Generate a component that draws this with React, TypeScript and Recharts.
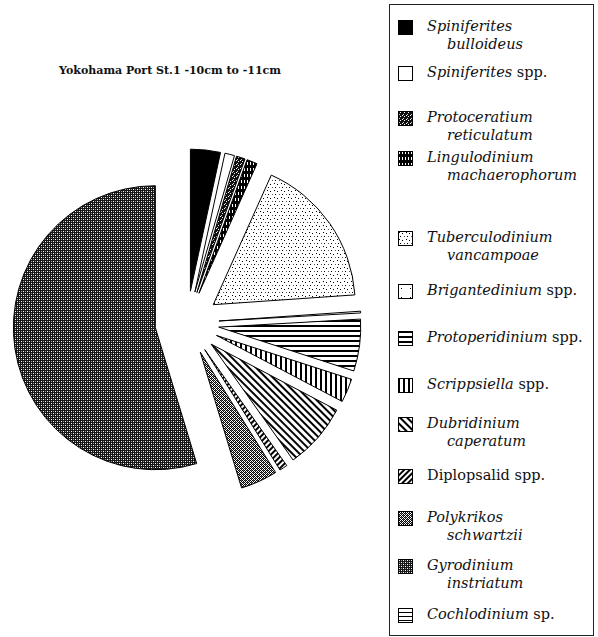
import React from 'react';
import { PieChart, Pie, Cell, Sector } from 'recharts';

// ─── Data — cyst assemblage, Yokohama Port St.1 (-10cm to -11cm), % ──────────

const TAXA: string[] = [
  'Spiniferites bulloideus',
  'Spiniferites spp.',
  'Protoceratium reticulatum',
  'Lingulodinium machaerophorum',
  'Tuberculodinium vancampoae',
  'Brigantedinium spp.',
  'Protoperidinium spp.',
  'Scrippsiella spp.',
  'Dubridinium caperatum',
  'Diplopsalid spp.',
  'Polykrikos schwartzii',
  'Gyrodinium instriatum',
  'Cochlodinium sp.',
];

const PERCENT: number[] = [3.4, 1.1, 1.0, 1.2, 17.2, 0.2, 5.9, 2.7, 7.5, 0.9, 4.2, 54.7, 0];

const PATTERN_IDS: string[] = [
  'p-black', 'p-white', 'p-proto', 'p-lingu', 'p-tuber', 'p-brig', 'p-hline',
  'p-vline', 'p-bslash', 'p-fslash', 'p-check', 'p-dark', 'p-cochlo',
];

const TITLE = 'Yokohama Port St.1 -10cm to -11cm';

// ─── Layout ───────────────────────────────────────────────────────────────────

const ROW_Y = [26, 72, 117, 157, 237, 290, 337, 384, 423, 475, 517, 565, 614];
const EXPLODE = 32;
const RADIAN = Math.PI / 180;
const FONT = '"DejaVu Serif", serif';

const pieData = TAXA.map((name, i) => ({ name, value: PERCENT[i] }));

function ExplodedSlice(props: any) {
  const { cx, cy, midAngle } = props;
  const dx = EXPLODE * Math.cos(-midAngle * RADIAN);
  const dy = EXPLODE * Math.sin(-midAngle * RADIAN);
  return <Sector {...props} cx={cx + dx} cy={cy + dy} stroke="#000" strokeWidth={1} />;
}

function Patterns() {
  return (
    <svg width={0} height={0} style={{ position: 'absolute' }}>
      <defs>
        <pattern id="p-black" width={4} height={4} patternUnits="userSpaceOnUse">
          <rect width={4} height={4} fill="#000" />
        </pattern>
        <pattern id="p-white" width={4} height={4} patternUnits="userSpaceOnUse">
          <rect width={4} height={4} fill="#fff" />
        </pattern>
        <pattern id="p-proto" width={4} height={4} patternUnits="userSpaceOnUse">
          <rect width={4} height={4} fill="#111" />
          <rect x={0} y={0} width={1} height={1} fill="#fff" />
          <rect x={2} y={1} width={1} height={1} fill="#fff" />
          <rect x={1} y={3} width={1} height={1} fill="#ccc" />
        </pattern>
        <pattern id="p-lingu" width={3} height={6} patternUnits="userSpaceOnUse">
          <rect width={3} height={6} fill="#000" />
          <rect x={1} y={0} width={1} height={3} fill="#fff" />
        </pattern>
        <pattern id="p-tuber" width={7} height={7} patternUnits="userSpaceOnUse">
          <rect width={7} height={7} fill="#fff" />
          <rect x={1} y={1} width={1} height={1} fill="#000" />
          <rect x={4} y={2} width={1} height={1} fill="#000" />
          <rect x={2} y={5} width={1} height={1} fill="#000" />
          <rect x={6} y={5} width={1} height={1} fill="#555" />
        </pattern>
        <pattern id="p-brig" width={9} height={9} patternUnits="userSpaceOnUse">
          <rect width={9} height={9} fill="#fff" />
          <rect x={3} y={4} width={1} height={1} fill="#000" />
        </pattern>
        <pattern id="p-hline" width={5} height={5} patternUnits="userSpaceOnUse">
          <rect width={5} height={5} fill="#fff" />
          <rect x={0} y={0} width={5} height={2} fill="#000" />
        </pattern>
        <pattern id="p-vline" width={5} height={5} patternUnits="userSpaceOnUse">
          <rect width={5} height={5} fill="#fff" />
          <rect x={0} y={0} width={2} height={5} fill="#000" />
        </pattern>
        <pattern id="p-bslash" width={5} height={5} patternUnits="userSpaceOnUse" patternTransform="rotate(-45)">
          <rect width={5} height={5} fill="#fff" />
          <rect x={0} y={0} width={2} height={5} fill="#000" />
        </pattern>
        <pattern id="p-fslash" width={4} height={4} patternUnits="userSpaceOnUse" patternTransform="rotate(45)">
          <rect width={4} height={4} fill="#fff" />
          <rect x={0} y={0} width={2} height={4} fill="#000" />
        </pattern>
        <pattern id="p-check" width={4} height={4} patternUnits="userSpaceOnUse">
          <rect width={4} height={4} fill="#fff" />
          <rect x={0} y={0} width={1} height={1} fill="#000" />
          <rect x={2} y={0} width={1} height={1} fill="#000" />
          <rect x={1} y={1} width={1} height={1} fill="#000" />
          <rect x={3} y={1} width={1} height={1} fill="#000" />
          <rect x={0} y={2} width={1} height={1} fill="#000" />
          <rect x={2} y={2} width={1} height={1} fill="#000" />
          <rect x={1} y={3} width={1} height={1} fill="#000" />
          <rect x={3} y={3} width={1} height={1} fill="#000" />
          <rect x={1} y={0} width={1} height={1} fill="#666" />
          <rect x={3} y={2} width={1} height={1} fill="#666" />
        </pattern>
        <pattern id="p-dark" width={4} height={4} patternUnits="userSpaceOnUse">
          <rect width={4} height={4} fill="#161616" />
          <rect x={1} y={1} width={1} height={1} fill="#fff" />
          <rect x={3} y={3} width={1} height={1} fill="#fff" />
          <rect x={3} y={1} width={1} height={1} fill="#9a9a9a" />
          <rect x={1} y={3} width={1} height={1} fill="#9a9a9a" />
        </pattern>
        <pattern id="p-cochlo" width={5} height={4} patternUnits="userSpaceOnUse">
          <rect width={5} height={4} fill="#fff" />
          <rect x={0} y={0} width={5} height={1} fill="#000" />
        </pattern>
      </defs>
    </svg>
  );
}

// splits "Genus species" into italic / upright parts, spp. and sp. stay upright
function LabelLine({ text, italic }: { text: string; italic: boolean }) {
  const m = text.match(/^(.*?)(\s(?:spp|sp)\.)$/);
  if (m) {
    return (
      <>
        <span style={{ fontStyle: italic ? 'italic' : 'normal' }}>{m[1]}</span>
        <span style={{ fontStyle: 'normal' }}>{m[2]}</span>
      </>
    );
  }
  return <span style={{ fontStyle: italic ? 'italic' : 'normal' }}>{text}</span>;
}

function SpeciesLegend() {
  return (
    <div
      style={{
        position: 'absolute',
        left: 389,
        top: 4,
        width: 205,
        height: 632,
        border: '1px solid #222',
        boxSizing: 'border-box',
        fontFamily: FONT,
        fontSize: 14.5,
        color: '#111',
      }}
    >
      {TAXA.map((name, i) => {
        const words = name.split(' ');
        const twoLines = words.length === 2 && !/^spp?\.$/.test(words[1]);
        const italic = name !== 'Diplopsalid spp.';
        const y = ROW_Y[i] - 4;
        return (
          <div key={name}>
            <svg
              width={15}
              height={15}
              style={{ position: 'absolute', left: 8, top: y - 7 }}
            >
              <rect x={0.5} y={0.5} width={14} height={14} fill={`url(#${PATTERN_IDS[i]})`} stroke="#000" />
            </svg>
            <div style={{ position: 'absolute', left: 37, top: y - 10, lineHeight: '19px', whiteSpace: 'nowrap' }}>
              <LabelLine text={twoLines ? words[0] : name} italic={italic} />
            </div>
            {twoLines && (
              <div style={{ position: 'absolute', left: 57, top: y + 8, lineHeight: '19px', whiteSpace: 'nowrap' }}>
                <LabelLine text={words[1]} italic={italic} />
              </div>
            )}
          </div>
        );
      })}
    </div>
  );
}

export default function App() {
  return (
    <div style={{ position: 'absolute', left: 0, top: 0, width: 598, height: 637, background: '#fff' }}>
      <Patterns />
      <div
        style={{
          position: 'absolute',
          left: 40,
          top: 64,
          width: 260,
          textAlign: 'center',
          fontFamily: FONT,
          fontWeight: 'bold',
          fontSize: 11,
          color: '#111',
        }}
      >
        {TITLE}
      </div>
      <div style={{ position: 'absolute', left: 0, top: 0 }}>
        <PieChart width={380} height={637} margin={{ top: 0, right: 0, bottom: 0, left: 0 }}>
          <Pie
            data={pieData}
            dataKey="value"
            nameKey="name"
            cx={187}
            cy={323}
            outerRadius={142}
            startAngle={90}
            endAngle={-270}
            stroke="#000"
            strokeWidth={1}
            isAnimationActive={false}
            shape={ExplodedSlice}
            activeShape={ExplodedSlice}
            inactiveShape={ExplodedSlice}
          >
            {pieData.map((d, i) => (
              <Cell key={d.name} fill={`url(#${PATTERN_IDS[i]})`} />
            ))}
          </Pie>
        </PieChart>
      </div>
      <SpeciesLegend />
    </div>
  );
}
